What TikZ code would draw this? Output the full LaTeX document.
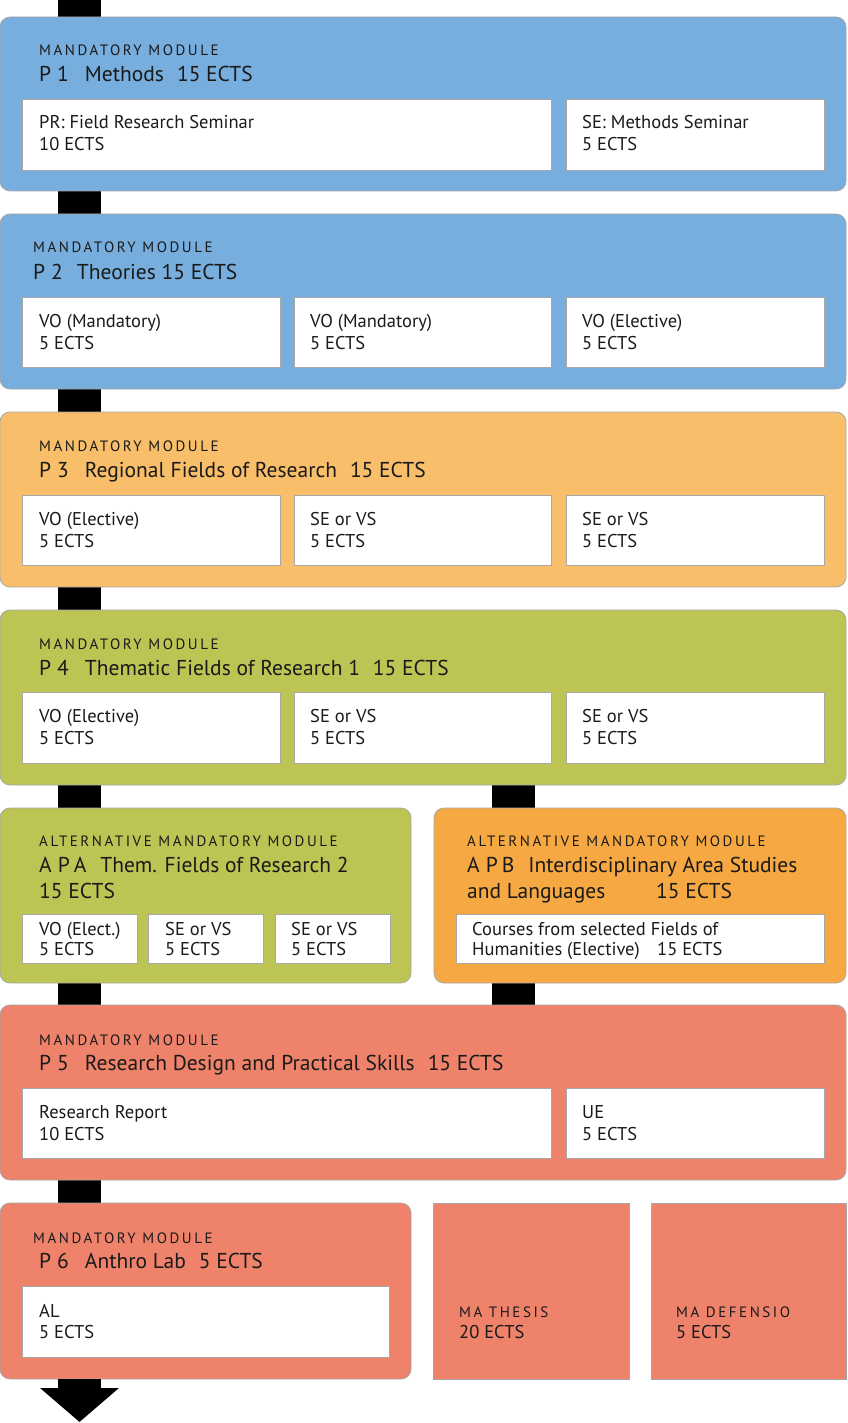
\documentclass[tikz,border=0pt]{standalone}
\usepackage{fontspec}
\setmainfont{PT Sans}
\usetikzlibrary{fit,arrows.meta}
\definecolor{cblue}{HTML}{77AEDD}
\definecolor{corange}{HTML}{F8BE6A}
\definecolor{cgreen}{HTML}{BCC454}
\definecolor{corangeb}{HTML}{F6A842}
\definecolor{csalmon}{HTML}{EF826A}
\definecolor{cborder}{HTML}{A8A8A8}
\definecolor{ctext}{HTML}{1A1A1A}
\pgfdeclarelayer{bg}
\pgfsetlayers{bg,main}
\newcounter{tn}
\newcommand\Bx[6]{\node[#1, fit={(#3,#4) (#5,#6)}] (#2) {};}
\newcommand\Tx[3]{\stepcounter{tn}\node[#1] (t\arabic{tn}) at (#2) {#3};}
\newcommand\gp[1]{\hspace{#1pt}}
\tikzset{
  modbox/.style={draw=cborder, line width=0.8pt, rounded corners=10pt, inner sep=0pt},
  sqbox/.style={draw=cborder, line width=0.8pt, inner sep=0pt},
  wbox/.style={draw=cborder, line width=0.8pt, fill=white, inner sep=0pt},
  txt/.style={anchor=base west, inner sep=0pt, text=ctext},
  lab/.style={txt, font=\fontsize{15}{18}\selectfont\addfontfeature{LetterSpace=17}},
  ttl/.style={txt, font=\fontsize{21.5}{25}\selectfont},
  body/.style={txt, font=\fontsize{18.5}{22}\selectfont},
  bar/.style={line width=43pt, draw=black},
}
\begin{document}
\begin{tikzpicture}[x=1pt,y=-1pt]
\useasboundingbox (0,0) rectangle (847,1423);
\coordinate (top) at (79.5,0);
\coordinate (topR) at (513.5,0);
\coordinate (end) at (79.5,1422);
% P1
\Bx{modbox,fill=cblue}{P1}{0}{17}{846}{191}
\Tx{lab}{39,56}{MANDATORY MODULE}
\Tx{ttl}{39,82}{P\gp{6}1\gp{16}Methods\gp{13}15 ECTS}
\Bx{wbox}{P1a}{22}{99}{551}{170}
\Bx{wbox}{P1b}{566}{99}{824}{170}
\Tx{body}{39,129}{PR: Field Research Seminar}
\Tx{body}{39,151}{10 ECTS}
\Tx{body}{582,129}{SE: Methods Seminar}
\Tx{body}{582,151}{5 ECTS}
% P2
\Bx{modbox,fill=cblue}{P2}{0}{214}{846}{389}
\Tx{lab}{33,253}{MANDATORY MODULE}
\Tx{ttl}{33,279}{P\gp{6}2\gp{14}Theories 15 ECTS}
\Bx{wbox}{P2a}{22}{297}{280}{367}
\Bx{wbox}{P2b}{294}{297}{551}{367}
\Bx{wbox}{P2c}{566}{297}{824}{367}
\Tx{body}{39,327}{VO (Mandatory)}
\Tx{body}{39,349}{5 ECTS}
\Tx{body}{310,327}{VO (Mandatory)}
\Tx{body}{310,349}{5 ECTS}
\Tx{body}{582,327}{VO (Elective)}
\Tx{body}{582,349}{5 ECTS}
% P3
\Bx{modbox,fill=corange}{P3}{0}{412}{846}{587}
\Tx{lab}{39,451}{MANDATORY MODULE}
\Tx{ttl}{39,477}{P\gp{6}3\gp{16}Regional Fields of Research\gp{13}15 ECTS}
\Bx{wbox}{P3a}{22}{495}{280}{565}
\Bx{wbox}{P3b}{294}{495}{551}{565}
\Bx{wbox}{P3c}{566}{495}{824}{565}
\Tx{body}{39,525}{VO (Elective)}
\Tx{body}{39,547}{5 ECTS}
\Tx{body}{310,525}{SE or VS}
\Tx{body}{310,547}{5 ECTS}
\Tx{body}{582,525}{SE or VS}
\Tx{body}{582,547}{5 ECTS}
% P4
\Bx{modbox,fill=cgreen}{P4}{0}{610}{846}{785}
\Tx{lab}{39,649}{MANDATORY MODULE}
\Tx{ttl}{39,675}{P\gp{6}4\gp{16}Thematic Fields of Research 1\gp{13}15 ECTS}
\Bx{wbox}{P4a}{22}{692}{280}{763}
\Bx{wbox}{P4b}{294}{692}{551}{763}
\Bx{wbox}{P4c}{566}{692}{824}{763}
\Tx{body}{39,722}{VO (Elective)}
\Tx{body}{39,744}{5 ECTS}
\Tx{body}{310,722}{SE or VS}
\Tx{body}{310,744}{5 ECTS}
\Tx{body}{582,722}{SE or VS}
\Tx{body}{582,744}{5 ECTS}
% APA
\Bx{modbox,fill=cgreen}{APA}{0}{808}{411}{983}
\Tx{lab}{39,846}{ALTERNATIVE MANDATORY MODULE}
\Tx{ttl}{39,872}{A\gp{6}P\gp{4}A\gp{14}Them. Fields of Research 2}
\Tx{ttl}{39,898}{15 ECTS}
\Bx{wbox}{APAa}{22}{914}{137}{963}
\Bx{wbox}{APAb}{148}{914}{263}{963}
\Bx{wbox}{APAc}{275}{914}{390}{963}
\Tx{body}{39,935}{VO (Elect.)}
\Tx{body}{39,955}{5 ECTS}
\Tx{body}{165,935}{SE or VS}
\Tx{body}{165,955}{5 ECTS}
\Tx{body}{291,935}{SE or VS}
\Tx{body}{291,955}{5 ECTS}
% APB
\Bx{modbox,fill=corangeb}{APB}{434}{808}{846}{983}
\Tx{lab}{467,846}{ALTERNATIVE MANDATORY MODULE}
\Tx{ttl}{467,872}{A\gp{6}P\gp{4}B\gp{14}Interdisciplinary Area Studies}
\Tx{ttl}{467,898}{and Languages}
\Tx{ttl}{656,898}{15 ECTS}
\Bx{wbox}{APBa}{456}{914}{824}{963}
\Tx{body}{472,935}{Courses from selected Fields of}
\Tx{body}{472,955}{Humanities (Elective)}
\Tx{body}{657,955}{15 ECTS}
% P5
\Bx{modbox,fill=csalmon}{P5}{0}{1005}{846}{1180}
\Tx{lab}{39,1045}{MANDATORY MODULE}
\Tx{ttl}{39,1070}{P\gp{6}5\gp{16}Research Design and Practical Skills\gp{13}15 ECTS}
\Bx{wbox}{P5a}{22}{1088}{551}{1158}
\Bx{wbox}{P5b}{566}{1088}{824}{1158}
\Tx{body}{39,1118}{Research Report}
\Tx{body}{39,1140}{10 ECTS}
\Tx{body}{582,1118}{UE}
\Tx{body}{582,1140}{5 ECTS}
% P6
\Bx{modbox,fill=csalmon}{P6}{0}{1203}{411}{1379}
\Tx{lab}{33,1243}{MANDATORY MODULE}
\Tx{ttl}{39,1268}{P\gp{6}6\gp{16}Anthro Lab\gp{13}5 ECTS}
\Bx{wbox}{P6a}{22}{1286}{389}{1357}
\Tx{body}{39,1317}{AL}
\Tx{body}{39,1338}{5 ECTS}
% MA
\Bx{sqbox,fill=csalmon}{MAT}{433}{1203}{629}{1379}
\Tx{lab}{459,1317}{MA THESIS}
\Tx{body}{459,1338}{20 ECTS}
\Bx{sqbox,fill=csalmon}{MAD}{651}{1203}{846}{1379}
\Tx{lab}{676,1317}{MA DEFENSIO}
\Tx{body}{676,1338}{5 ECTS}
% bars
\begin{pgfonlayer}{bg}
\draw[bar] (top) -- (P1.center -| top);
\draw[bar] (P1.center -| top) -- (P2.center -| top);
\draw[bar] (P2.center -| top) -- (P3.center -| top);
\draw[bar] (P3.center -| top) -- (P4.center -| top);
\draw[bar] (P4.center -| top) -- (APA.center -| top);
\draw[bar] (APA.center -| top) -- (P5.center -| top);
\draw[bar] (P5.center -| top) -- (P6.center -| top);
\draw[bar] (P4.center -| topR) -- (APB.center -| topR);
\draw[bar] (APB.center -| topR) -- (P5.center -| topR);
\end{pgfonlayer}
\draw[bar, -{Triangle[width=77pt,length=34pt]}] (P6.south -| top) -- (end);
\end{tikzpicture}
\end{document}
